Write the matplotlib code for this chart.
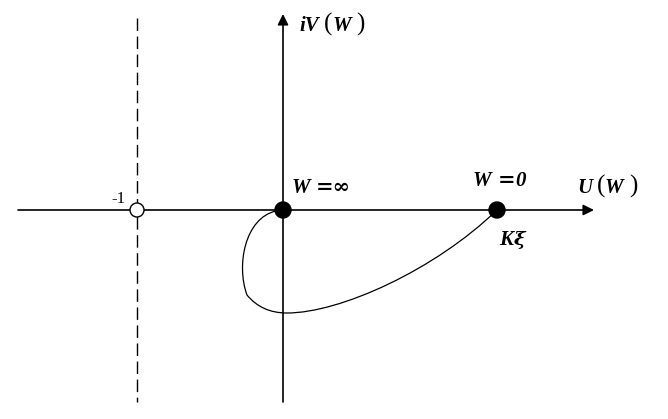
import matplotlib.pyplot as plt
from matplotlib.path import Path
from matplotlib.patches import PathPatch, Circle

# points in picture coordinates (x right, y down)
origin = (283, 210)
minus_one = (137, 210)
k_xi = (497, 210)

# Nyquist curve, as cubic Bezier segments: start, then (c1, c2, end) triples
curve_start = (276, 211)
curve_ctrl = [
    (245, 218), (236, 265), (247, 295),
    (257, 307), (270, 313), (287, 313),
    (340, 313), (435, 270), (497, 210),
]

fig = plt.figure(figsize=(6.68, 4.19), dpi=100)
ax = fig.add_axes([0, 0, 1, 1])
ax.set_xlim(0, 668)
ax.set_ylim(419, 0)
ax.axis('off')

# axes with arrows
ax.annotate('', xy=(594, 210), xytext=(18, 210),
            arrowprops=dict(arrowstyle='-|>', mutation_scale=16, lw=1.2, color='k',
                            shrinkA=0, shrinkB=0))
ax.annotate('', xy=(283, 14), xytext=(283, 402),
            arrowprops=dict(arrowstyle='-|>', mutation_scale=16, lw=1.2, color='k',
                            shrinkA=0, shrinkB=0))

# dashed line at -1
ax.plot([minus_one[0], minus_one[0]], [18, 402], color='k', lw=1, ls=(0, (9, 4)))

# the curve
verts = [curve_start] + curve_ctrl
codes = [Path.MOVETO] + [Path.CURVE4] * len(curve_ctrl)
ax.add_patch(PathPatch(Path(verts, codes), fill=False, lw=0.9, color='k'))

# points
ax.add_patch(Circle(minus_one, 7, facecolor='white', edgecolor='k', lw=1, zorder=5))
ax.add_patch(Circle(origin, 8, facecolor='k', edgecolor='k', zorder=5))
ax.add_patch(Circle(k_xi, 8, facecolor='k', edgecolor='k', zorder=5))

bi = dict(family='Liberation Serif', weight='bold', style='italic', fontsize=15,
          va='baseline', ha='left')
par = dict(family='Liberation Serif', fontsize=18, va='baseline', ha='left')
sym = dict(family='DejaVu Serif', weight='bold', fontsize=15, va='baseline', ha='left')

# iV(W)
ax.text(299, 31, 'iV', **bi)
ax.text(324, 31, '(', **par)
ax.text(333, 31, 'W', **bi)
ax.text(356, 31, ')', **par)

# U(W)
ax.text(577, 193, 'U', **bi)
ax.text(597, 193, '(', **par)
ax.text(605, 193, 'W', **bi)
ax.text(629, 193, ')', **par)

ax.text(292, 193, 'W', **bi)
ax.text(316, 193, '=\u221e', **sym)
ax.text(473, 186, 'W', **bi)
ax.text(498, 186, '=', **sym)
ax.text(515, 186, '0', **bi)
ax.text(499, 245, 'K', **bi)
ax.text(514, 245, '\u03be', family='DejaVu Serif', weight='bold', style='italic',
        fontsize=14, va='baseline', ha='left')
ax.text(111, 203, '-1', family='Liberation Serif', fontsize=12, va='baseline')

fig.savefig('out.png', dpi=100)
